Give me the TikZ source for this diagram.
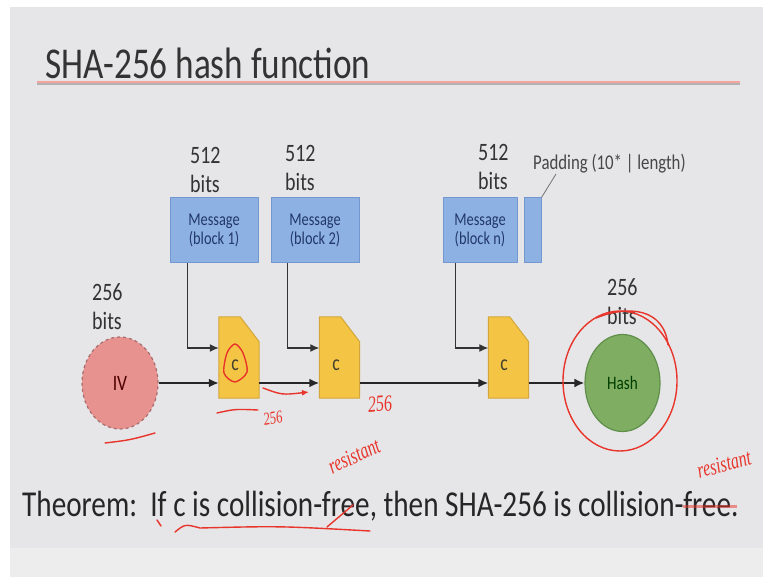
\documentclass[tikz,border=0pt]{standalone}
\usepackage{fontspec}
\setmainfont[FakeStretch=0.8]{Carlito}
\newfontfamily\penfont[FakeStretch=0.7]{Liberation Serif}
\usetikzlibrary{shapes.geometric,arrows.meta}

\definecolor{slidebg}{HTML}{E6E6E8}
\definecolor{bandbg}{HTML}{EDEDEE}
\definecolor{msgblue}{HTML}{8EB1E3}
\definecolor{msgedge}{HTML}{7398CF}
\definecolor{msgtext}{HTML}{22386A}
\definecolor{compfill}{HTML}{F4C544}
\definecolor{compedge}{HTML}{D2A63A}
\definecolor{ivfill}{HTML}{E89290}
\definecolor{ivedge}{HTML}{A86C6C}
\definecolor{hashfill}{HTML}{7FAE62}
\definecolor{hashedge}{HTML}{5F8F4A}
\definecolor{penred}{HTML}{E8342A}
\definecolor{inkgray}{HTML}{333333}

\tikzset{
  msgbox/.style={draw=msgedge,fill=msgblue,line width=1pt,minimum height=65pt,
    text=msgtext,align=center,font=\fontsize{18}{19}\selectfont,inner sep=0pt},
  compbox/.style={rectangle,minimum width=40pt,minimum height=81pt,inner sep=0pt},
  compline/.style={draw=compedge,fill=compfill,line width=1pt,line join=round},
  ctext/.style={text=black!70!olive,font=\fontsize{22}{22}\selectfont},
  bits/.style={anchor=south west,inner sep=0pt,align=left,text=inkgray,
    font=\fontsize{25}{29}\selectfont},
  flow/.style={-{Latex[length=10pt,width=9pt]},line width=2pt,draw=black!85},
  feed/.style={-{Latex[length=9pt,width=8pt]},line width=1.3pt,draw=black!80},
  penline/.style={draw=penred,line width=1.4pt,line cap=round},
  pentext/.style={text=penred,font=\penfont\itshape\fontsize{23}{23}\selectfont,inner sep=0pt}
}

\begin{document}
\begin{tikzpicture}[x=1pt,y=1pt]
        \useasboundingbox (0,-577) rectangle (763,0);
        \fill[white] (0,-577) rectangle (763,0);
        \fill[slidebg] (10,-577) rectangle (763,-7);
        \fill[bandbg] (10,-577) rectangle (763,-548);
        % title
        \node[anchor=base west,inner sep=0pt,text=inkgray,font=\fontsize{44}{44}\selectfont] (title) at (45,-79) {SHA-256 hash function};
        \draw[line width=2.5pt,draw=black!30] (37,-84) -- (740,-84);
        \draw[line width=2pt,draw=penred!45] (37,-82) -- (740,-82);
        % message blocks
        \node[msgbox,minimum width=88pt] (m1) at (214,-230.5) {Message\\(block 1)};
        \node[msgbox,minimum width=88pt] (m2) at (315,-230.5) {Message\\(block 2)};
        \node[msgbox,minimum width=74pt] (mn) at (480,-230.5) {Message\\(block n)};
        \node[msgbox,minimum width=17pt] (pad) at (532.5,-230.5) {};
        \node[bits] (b1) at (190,-193) {512\\bits};
        \node[bits] (b2) at (285,-191) {512\\bits};
        \node[bits] (bn) at (478,-190) {512\\bits};
        \node[anchor=base west,inner sep=0pt,text=inkgray!90,font=\fontsize{21}{21}\selectfont] (padlbl) at (533,-170) {Padding (10* | length)};
        \coordinate (padtip) at (556,-174);
        \draw[line width=0.8pt,draw=black!55] (pad.north east) -- (padtip);
        % chaining values
        \node[ellipse,draw=ivedge,dashed,line width=1.2pt,fill=ivfill,minimum width=76pt,minimum height=92pt,
          text=black!70!red,font=\fontsize{22}{22}\selectfont] (iv) at (120,-383) {IV};
        \node[bits] (biv) at (92,-330) {256\\bits};
        \node[compbox] (c1) at (239,-357.5) {};
        \node[compbox] (c2) at (339.5,-357.5) {};
        \node[compbox] (c3) at (508.5,-357.5) {};
        \foreach \cname in {c1,c2,c3}
          \draw[compline] (\cname.south west) -- (\cname.north west) -- ([xshift=-19pt]\cname.north east)
            -- ([yshift=-25pt]\cname.north east) -- (\cname.south east) -- cycle;
        \node[ctext] (c1t) at (235,-365) {c};
        \node[ctext] (c2t) at (336,-365) {c};
        \node[ctext] (c3t) at (504,-365) {c};
        \node[ellipse,draw=hashedge,line width=1.2pt,fill=hashfill,minimum width=75pt,minimum height=97pt,
          text=black!60!green!60!black,font=\fontsize{19}{19}\selectfont] (hash) at (622.5,-383) {Hash};
        \node[bits] (bh) at (607,-325) {256\\bits};
        % connectors
        \draw[flow] (iv.east) -- (iv.east -| c1.west);
        \draw[flow] (c1.east |- iv.east) -- (c2.west |- iv.east);
        \draw[flow] (c2.east |- iv.east) -- (c3.west |- iv.east);
        \draw[flow] (c3.east |- hash.west) -- (hash.west);
        \draw[feed] ([xshift=18pt]m1.south west) |- ([yshift=9.5pt]c1.west);
        \draw[feed] ([xshift=17pt]m2.south west) |- ([yshift=9.5pt]c2.west);
        \draw[feed] ([xshift=13pt]mn.south west) |- ([yshift=9.5pt]c3.west);
        % theorem
        \node[anchor=base west,inner sep=0pt,text=black!85,font=\fontsize{36.5}{37}\selectfont] (thm) at (22,-516)
          {Theorem:\ \ If c is collision-free, then SHA-256 is collision-free.};
        % pen marks
        \draw[penline] plot[smooth cycle] coordinates {(235,-344) (243,-353) (247,-372) (235,-382) (224,-373) (227,-353)};
        \draw[penline,-{Latex[length=7pt,width=6pt]}] (263,-388) .. controls (282,-395) .. (309,-392);
        \draw[penline] (217,-413) .. controls (235,-409) .. (258,-410);
        \node[pentext,rotate=10,font=\penfont\itshape\fontsize{18}{18}\selectfont] (n1) at (273,-418) {256};
        \node[pentext,rotate=5] (n2) at (380,-404) {256};
        \draw[penline] (105,-443) .. controls (130,-440) .. (155,-433);
        \draw[penline] (620,-381) ellipse (57pt and 70pt);
        \draw[penline] (596,-318) .. controls (628,-305) and (664,-308) .. (668,-345);
        \node[pentext,rotate=25] (r1) at (354,-456) {resistant};
        \draw[penline] (327,-527) -- (353,-505);
        \draw[penline] (157,-520) -- (161,-526);
        \draw[penline] (175,-532) .. controls (185,-524) .. (200,-528) .. controls (280,-526) .. (370,-531);
        \node[pentext,rotate=15] (r2) at (724,-464) {resistant};
        \draw[draw=penred,line width=3pt,opacity=0.5] (683,-506) -- (737,-506);
    \end{tikzpicture}
\end{document}
